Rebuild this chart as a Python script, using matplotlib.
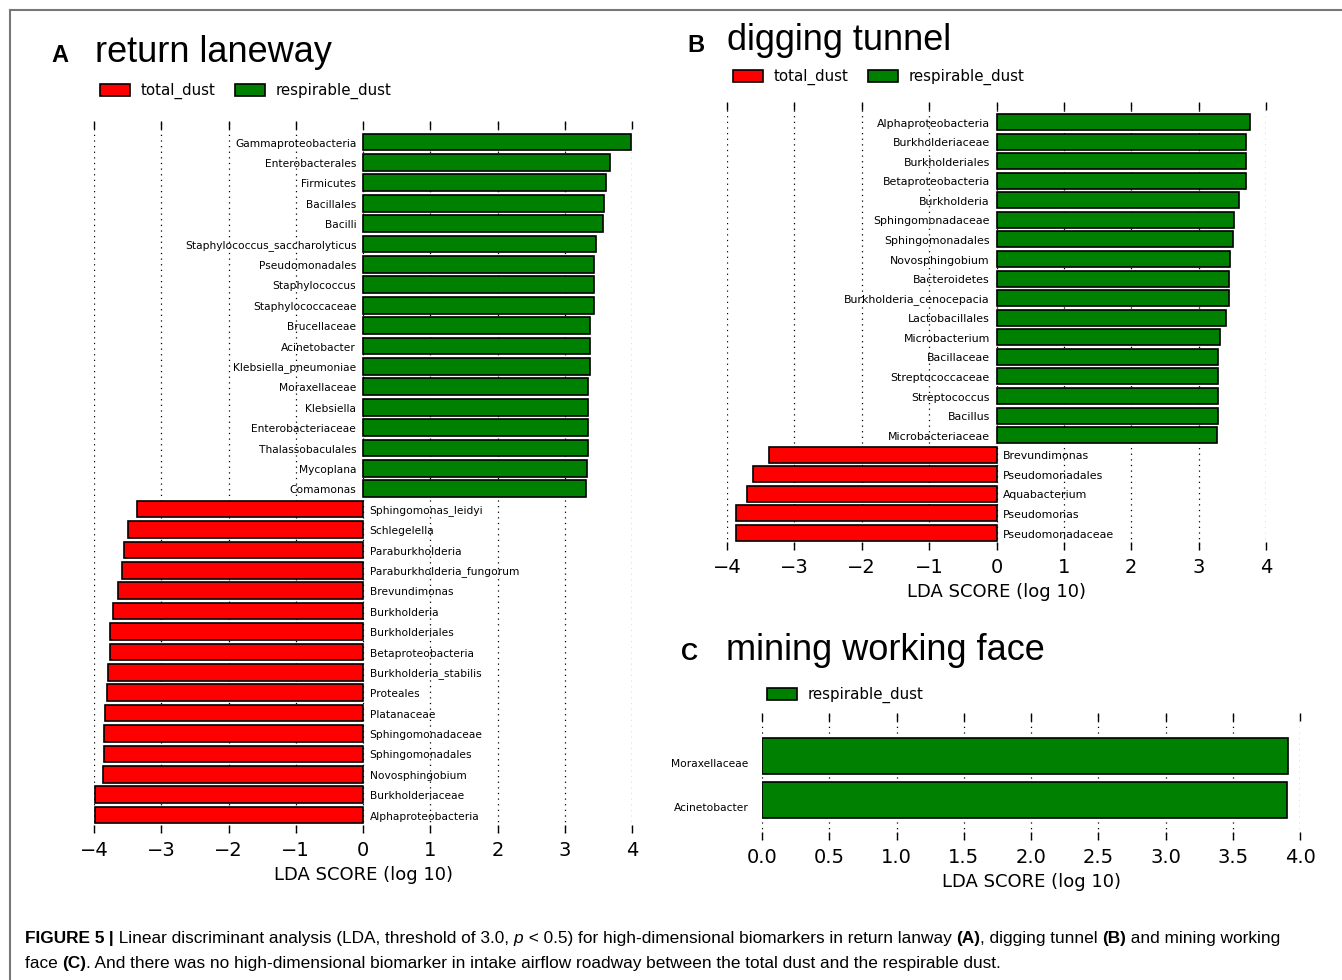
import numpy as np
import matplotlib.pyplot as plt
from matplotlib.patches import Patch
from matplotlib.lines import Line2D

# 各面板的数据
a_pos_names = ['Gammaproteobacteria', 'Enterobacterales', 'Firmicutes', 'Bacillales', 'Bacilli',
               'Staphylococcus_saccharolyticus', 'Pseudomonadales', 'Staphylococcus', 'Staphylococcaceae',
               'Brucellaceae', 'Acinetobacter', 'Klebsiella_pneumoniae', 'Moraxellaceae', 'Klebsiella',
               'Enterobacteriaceae', 'Thalassobaculales', 'Mycoplana', 'Comamonas']
a_pos_vals = [3.99, 3.67, 3.62, 3.58, 3.57, 3.46, 3.44, 3.43, 3.43, 3.37, 3.37, 3.37, 3.35, 3.34,
              3.34, 3.34, 3.33, 3.31]
a_neg_names = ['Sphingomonas_leidyi', 'Schlegelella', 'Paraburkholderia', 'Paraburkholderia_fungorum',
               'Brevundimonas', 'Burkholderia', 'Burkholderiales', 'Betaproteobacteria', 'Burkholderia_stabilis',
               'Proteales', 'Platanaceae', 'Sphingomonadaceae', 'Sphingomonadales', 'Novosphingobium',
               'Burkholderiaceae', 'Alphaproteobacteria']
a_neg_vals = [-3.36, -3.49, -3.56, -3.58, -3.65, -3.72, -3.76, -3.76, -3.79, -3.80, -3.84, -3.85,
              -3.85, -3.86, -3.98, -3.99]

b_pos_names = ['Alphaproteobacteria', 'Burkholderiaceae', 'Burkholderiales', 'Betaproteobacteria',
               'Burkholderia', 'Sphingomonadaceae', 'Sphingomonadales', 'Novosphingobium', 'Bacteroidetes',
               'Burkholderia_cenocepacia', 'Lactobacillales', 'Microbacterium', 'Bacillaceae',
               'Streptococcaceae', 'Streptococcus', 'Bacillus', 'Microbacteriaceae']
b_pos_vals = [3.76, 3.71, 3.70, 3.70, 3.60, 3.53, 3.51, 3.46, 3.45, 3.45, 3.41, 3.32, 3.29, 3.29,
              3.29, 3.29, 3.27]
b_neg_names = ['Brevundimonas', 'Pseudomonadales', 'Aquabacterium', 'Pseudomonas', 'Pseudomonadaceae']
b_neg_vals = [-3.37, -3.61, -3.71, -3.86, -3.87]

c_names = ['Moraxellaceae', 'Acinetobacter']
c_vals = [3.91, 3.90]

RED = '#ff0000'
GREEN = '#008000'
W, H = 1342, 980

fig = plt.figure(figsize=(W / 100, H / 100), dpi=100)


def lda_panel(rect, names, vals, xlim, xticks, ytop, ybot, lab_size, lab_dy, tick_fmt=None):
    ax = fig.add_axes(rect)
    n = len(names)
    ypos = np.arange(n)[::-1]
    cols = [GREEN if v > 0 else RED for v in vals]
    ax.barh(ypos, vals, height=0.82, color=cols, edgecolor='black', linewidth=1.2)
    for y, v, name in zip(ypos, vals, names):
        if v > 0:
            ax.text(-0.1, y - lab_dy, name, ha='right', va='center', fontsize=lab_size)
        else:
            ax.text(0.1, y - lab_dy, name, ha='left', va='center', fontsize=lab_size)
    ax.set_xlim(*xlim)
    ax.set_ylim(-ybot, n - 1 + ytop)
    ax.set_xticks(xticks)
    if tick_fmt:
        ax.set_xticklabels([tick_fmt.format(t) for t in xticks])
    ax.set_yticks([])
    for s in ax.spines.values():
        s.set_visible(False)
    ax.tick_params(axis='x', direction='in', top=True, bottom=True, length=6, width=1,
                   labelsize=14, pad=6)
    for t in xticks:
        ax.axvline(t, color='black', ls=(0, (1, 3.5)), lw=0.9, zorder=0)
    ax.set_xlabel('LDA SCORE (log 10)', fontsize=13, labelpad=4)
    ax.patch.set_alpha(0)
    return ax


def fx(px):
    return px / W


def fy(py):
    return 1 - py / H


# A 回风巷
lda_panel([fx(94), fy(833), fx(538), (833 - 121) / H], a_pos_names + a_neg_names, a_pos_vals + a_neg_vals,
          (-4, 4), np.arange(-4, 5), 1.03, 0.88, 7.7, 0.08)
# B 掘进巷道
lda_panel([fx(727), fy(550), fx(539), (550 - 102) / H], b_pos_names + b_neg_names, b_pos_vals + b_neg_vals,
          (-4, 4), np.arange(-4, 5), 1.02, 0.87, 7.9, 0.08)
# C 采煤工作面
lda_panel([fx(762), fy(840), fx(538), (840 - 713) / H], c_names, c_vals,
          (0, 4), np.arange(0, 4.01, 0.5), 0.97, 0.92, 7.7, 0.2, '{:.1f}')

# 标题
title_font = ['Liberation Sans', 'DejaVu Sans']
for letter, lx, title, tx, ty in [('A', 60, 'return laneway', 95, 52),
                                  ('B', 696, 'digging tunnel', 727, 41),
                                  ('C', 689, 'mining working face', 726, 650)]:
    fig.text(fx(lx), fy(ty + 4), letter, fontsize=17, fontweight='bold', family=title_font,
             ha='center', va='center')
    fig.text(fx(tx), fy(ty), title, fontsize=26, family=title_font, ha='left', va='center')

# 图例
red_h = Patch(facecolor=RED, edgecolor='black', linewidth=1.2)
green_h = Patch(facecolor=GREEN, edgecolor='black', linewidth=1.2)
leg_kw = dict(frameon=False, fontsize=10.8, handlelength=2.0, handleheight=0.85, handletextpad=0.7,
              columnspacing=1.3, loc='center left', borderaxespad=0, borderpad=0)
fig.legend([red_h, green_h], ['total_dust', 'respirable_dust'], ncol=2,
           bbox_to_anchor=(fx(100), fy(91)), **leg_kw)
fig.legend([red_h, green_h], ['total_dust', 'respirable_dust'], ncol=2,
           bbox_to_anchor=(fx(733), fy(77)), **leg_kw)
fig.legend([green_h], ['respirable_dust'], ncol=1,
           bbox_to_anchor=(fx(767), fy(695)), **leg_kw)

# 外框
fig.add_artist(Line2D([fx(10), fx(10)], [fy(10), 0], color='#777777', lw=1.5))
fig.add_artist(Line2D([fx(10), 1], [fy(10), fy(10)], color='#777777', lw=1.5))

# 图注，逐段排版
cap_font = ['Liberation Sans', 'DejaVu Sans']
cap_lines = [
    (938, [('FIGURE 5', 'bold', 'normal'), (' |', 'bold', 'normal'),
           (' Linear discriminant analysis (LDA, threshold of 3.0, ', 'normal', 'normal'),
           ('p', 'normal', 'italic'),
           (' < 0.5) for high-dimensional biomarkers in return lanway ', 'normal', 'normal'),
           ('(A)', 'bold', 'normal'), (', digging tunnel ', 'normal', 'normal'),
           ('(B)', 'bold', 'normal'), (' and mining working', 'normal', 'normal')]),
    (963, [('face ', 'normal', 'normal'), ('(C)', 'bold', 'normal'),
           ('. And there was no high-dimensional biomarker in intake airflow roadway between the total dust '
            'and the respirable dust.', 'normal', 'normal')]),
]
renderer = fig.canvas.get_renderer()
for py, runs in cap_lines:
    x = fx(25)
    for s, wt, st in runs:
        t = fig.text(x, fy(py), s, fontsize=12.4, fontweight=wt, fontstyle=st, family=cap_font,
                     ha='left', va='center')
        bb = t.get_window_extent(renderer)
        x += bb.width / W

fig.savefig('out.png', dpi=100)
